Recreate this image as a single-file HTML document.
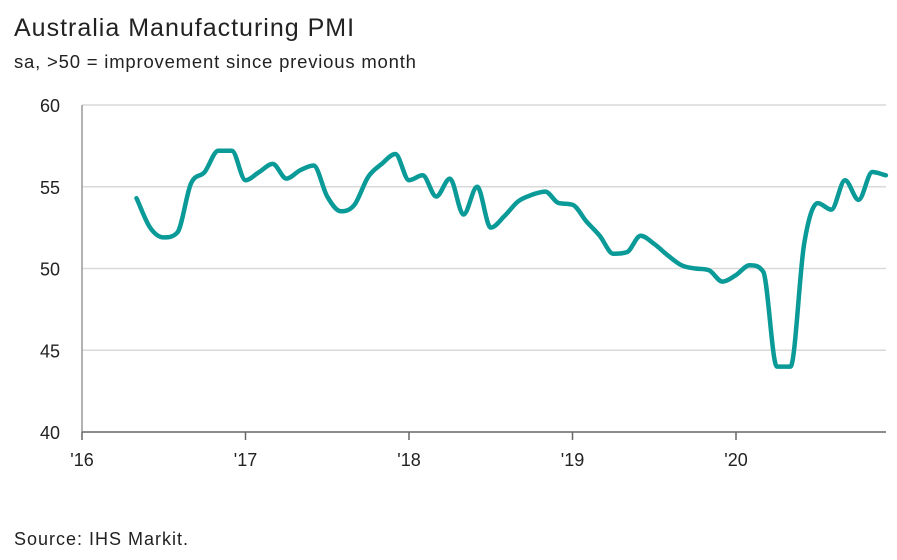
<!DOCTYPE html>
<html><head><meta charset="utf-8"><style>
body{margin:0;background:#fff;font-family:"Liberation Sans",sans-serif;}
#wrap{position:relative;width:897px;height:560px;overflow:hidden;}
</style></head><body>
<div id="wrap">
<svg id="c" width="897" height="560" xmlns="http://www.w3.org/2000/svg">
<text x="14" y="36" font-size="25" letter-spacing="1" fill="#222">Australia Manufacturing PMI</text>
<text x="14" y="68" font-size="18.5" letter-spacing="0.8" fill="#222">sa, &gt;50 = improvement since previous month</text>
<text x="14" y="545" font-size="18" letter-spacing="1" fill="#222">Source: IHS Markit.</text>
<g id="grid"></g><g id="axes"></g><g id="series"></g>
</svg></div>
<script>
const yTicks=[40,45,50,55,60];
const xTickLabels=["'16","'17","'18","'19","'20"];
const startMonth=4; // May 2016, months since Jan 2016
const pmiValues=[54.3,52.5,51.9,52.2,55.2,55.9,57.2,57.2,
55.4,55.9,56.4,55.5,56.0,56.3,54.4,53.5,53.9,55.6,56.4,57.0,
55.4,55.7,54.4,55.5,53.3,55.0,52.5,53.2,54.1,54.5,54.7,54.0,
53.9,52.9,52.0,50.9,51.0,52.0,51.5,50.8,50.2,50.0,49.9,49.2,
49.6,50.2,49.8,44.0,44.0,51.5,54.0,53.6,55.4,54.2,55.9,55.7];
const NS="http://www.w3.org/2000/svg";
const X0=82,X1=886,Y0=432,Y1=105;
const xs=m=>X0+m*(736-82)/48;
const ys=v=>Y0-(v-40)*(Y0-Y1)/20;
function mk(tag,attrs,parent){const e=document.createElementNS(NS,tag);for(const k in attrs)e.setAttribute(k,attrs[k]);parent.appendChild(e);return e;}
const grid=document.getElementById('grid'),axes=document.getElementById('axes'),ser=document.getElementById('series');
yTicks.forEach(t=>{
 if(t>40){const l=mk('line',{x1:X0,x2:X1,y1:ys(t),y2:ys(t),stroke:'#d9d9d9','stroke-width':1.5},grid);
 
 }
 const tx=mk('text',{x:60,y:ys(t)+7,'font-size':18,'text-anchor':'end',fill:'#222'},axes);
 tx.textContent=t;
 
 
});
const ya=mk('line',{x1:X0,x2:X0,y1:Y1,y2:Y0,stroke:'#999','stroke-width':1.5},axes);


const xa=mk('line',{x1:X0,x2:X1,y1:Y0,y2:Y0,stroke:'#666','stroke-width':1.5},axes);


xTickLabels.forEach((lab,i)=>{
 const x=xs(i*12);
 const tk=mk('line',{x1:x,x2:x,y1:Y0,y2:Y0+8,stroke:'#666','stroke-width':1.5},axes);
 
 
 const tx=mk('text',{x:x,y:Y0+34,'font-size':18,'text-anchor':'middle',fill:'#222'},axes);
 tx.textContent=lab;
 
 
});
// monotone cubic interpolation
const pts=pmiValues.map((v,i)=>[xs(startMonth+i),ys(v)]);
const n=pts.length,h=pts[1][0]-pts[0][0];
const dl=[];for(let i=0;i<n-1;i++)dl.push((pts[i+1][1]-pts[i][1])/h);
const m=new Array(n);
m[0]=dl[0];m[n-1]=dl[n-2];
for(let i=1;i<n-1;i++){m[i]=(dl[i-1]*dl[i]<=0)?0:(dl[i-1]+dl[i])/2;}
for(let i=0;i<n-1;i++){
 if(dl[i]===0){m[i]=0;m[i+1]=0;continue;}
 const a=m[i]/dl[i],b=m[i+1]/dl[i],s=a*a+b*b;
 if(s>9){const t=3/Math.sqrt(s);m[i]=t*a*dl[i];m[i+1]=t*b*dl[i];}
}
let d='M'+pts[0][0]+','+pts[0][1];
for(let i=0;i<n-1;i++){
 const p1=pts[i],p2=pts[i+1];
 d+=` C${p1[0]+h/3},${p1[1]+m[i]*h/3} ${p2[0]-h/3},${p2[1]-m[i+1]*h/3} ${p2[0]},${p2[1]}`;
}
const path=mk('path',{d:d,fill:'none',stroke:'#0a9a98','stroke-width':4.5,'stroke-linecap':'round','stroke-linejoin':'round'},ser);


</script>
</body></html>
